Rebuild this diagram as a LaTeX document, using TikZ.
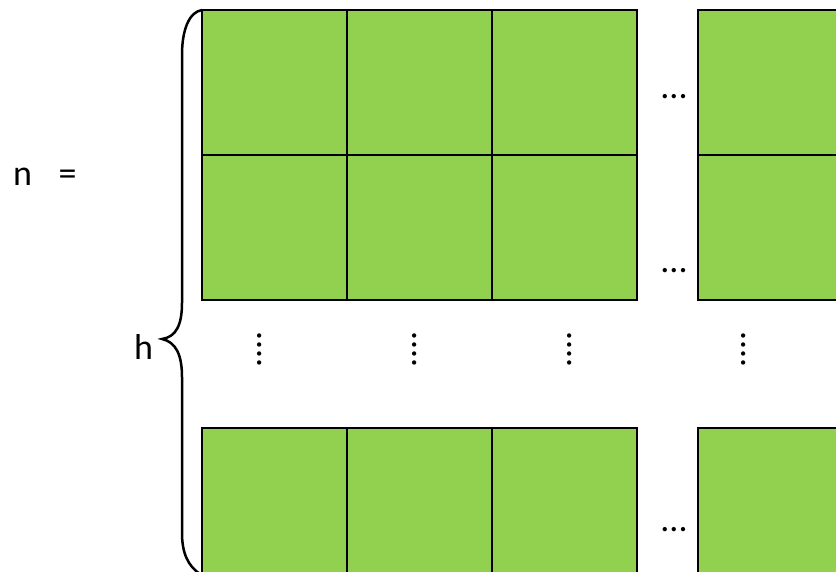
\documentclass[tikz,border=0pt]{standalone}
\usepackage{fontspec}
\setmainfont{Carlito}
\definecolor{cellgreen}{HTML}{92D050}
\begin{document}
\begin{tikzpicture}[x=1pt,y=-1pt,
  cell/.style={draw=black, fill=cellgreen, line width=2.6pt, minimum width=145pt, minimum height=145pt, anchor=north west, inner sep=0pt, outer sep=0pt},
  lbl/.style={font=\fontsize{36}{40}\selectfont, inner sep=0pt, outer sep=0pt, anchor=base},
  hdots/.style={lbl},
  vdots/.style={lbl, rotate=90},
  brace/.style={draw=black, line width=2.5pt, line cap=round}]
\useasboundingbox (0,0) rectangle (836,571);
\begin{scope}
\clip (0,0) rectangle (836,571);
% row 1
\node[cell] (r1c1) at (202,10) {};
\node[cell] (r1c2) at (347,10) {};
\node[cell] (r1c3) at (492,10) {};
\node[cell] (r1c4) at (698,10) {};
% row 2
\node[cell] (r2c1) at (202,155) {};
\node[cell] (r2c2) at (347,155) {};
\node[cell] (r2c3) at (492,155) {};
\node[cell] (r2c4) at (698,155) {};
% row 3
\node[cell] (r3c1) at (202,428) {};
\node[cell] (r3c2) at (347,428) {};
\node[cell] (r3c3) at (492,428) {};
\node[cell] (r3c4) at (698,428) {};
% brace
\draw[brace] (202,10) .. controls (189,12) and (182,30) .. (182,55) -- (182,303)
  .. controls (182,325) and (176,337) .. (162,339)
  .. controls (176,342) and (182,355) .. (182,377) -- (182,533)
  .. controls (182,553) and (188,566) .. (200,574);
\end{scope}
% labels
\node[lbl] (n) at (22.5,185) {n};
\node[lbl] (eq) at (67.5,185) {=};
\node[lbl] (h) at (143.5,359) {h};
% horizontal dots
\node[hdots] (d1) at (674,98) {...};
\node[hdots] (d2) at (674,272) {...};
\node[hdots] (d3) at (674,531) {...};
% vertical dots
\node[vdots] (v1) at (261.5,349.5) {....};
\node[vdots] (v2) at (416,349.5) {....};
\node[vdots] (v3) at (571,349.5) {....};
\node[vdots] (v4) at (745,349.5) {....};
\end{tikzpicture}
\end{document}
